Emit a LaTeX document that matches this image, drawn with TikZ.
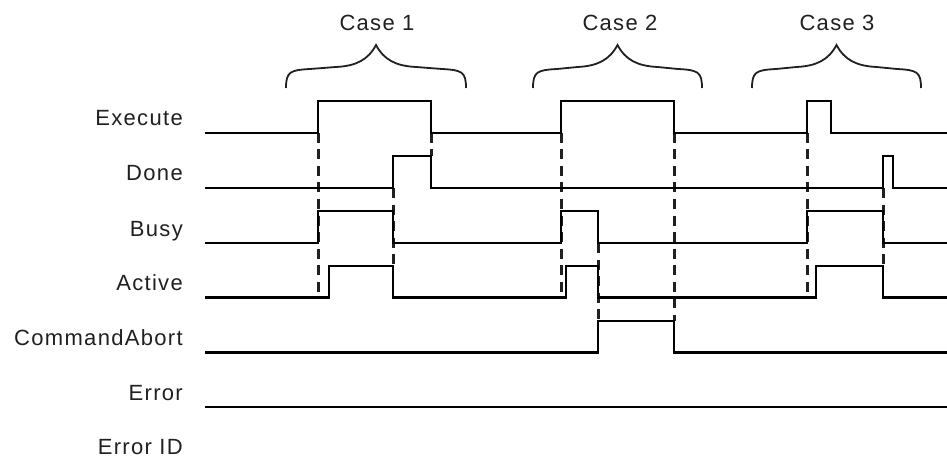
\documentclass[tikz,border=0pt]{standalone}
\usepackage{fontspec}
\setmainfont{Liberation Sans}[LetterSpace=6]
\begin{document}
\begin{tikzpicture}[x=1pt,y=-1pt,
  sig/.style={line width=2.1pt,black,line join=miter},
  guide/.style={line width=3pt,draw=ink,dash pattern=on 10pt off 6.5pt},
  lbl/.style={anchor=base east,inner sep=0pt,text=ink,font=\fontsize{22}{24}\selectfont},
  caselbl/.style={anchor=base,inner sep=0pt,text=ink,font=\fontsize{22}{24}\selectfont},
  brc/.style={line width=1.8pt,draw=ink}]
\definecolor{ink}{HTML}{231F20}
\useasboundingbox (0,0) rectangle (947,457);
\fill[white] (0,0) rectangle (947,457);
% labels
\node[lbl] (lExec) at (183,126) {Execute};
\node[lbl] (lDone) at (183,181) {Done};
\node[lbl] (lBusy) at (183,236) {Busy};
\node[lbl] (lAct) at (183,290.5) {Active};
\node[lbl] (lCA) at (183,345.5) {CommandAbort};
\node[lbl] (lErr) at (183,400) {Error};
\node[lbl] (lErrID) at (183,454) {Error ID};
% case labels
\node[caselbl] (c1) at (377,31) {Case 1};
\node[caselbl] (c2) at (620,31) {Case 2};
\node[caselbl] (c3) at (837,31) {Case 3};
% braces
\foreach \cx/\hw in {376/90, 617.5/84.5, 836.5/84.5}{
  \draw[brc] (\cx-\hw,88) .. controls (\cx-\hw,72) and (\cx-\hw+4,70) .. (\cx-\hw+24,69)
    -- (\cx-40,67) .. controls (\cx-20,66) and (\cx-8,60) .. (\cx,45)
    .. controls (\cx+8,60) and (\cx+20,66) .. (\cx+40,67)
    -- (\cx+\hw-24,69) .. controls (\cx+\hw-4,70) and (\cx+\hw,72) .. (\cx+\hw,88);
}
% dashed guides
\draw[guide] (318,133) -- (318,297.5);
\draw[guide] (393,188) -- (393,266);
\draw[guide] (431,133) -- (431,156);
\draw[guide] (561,133) -- (561,297.5);
\draw[guide] (598,243) -- (598,321);
\draw[guide] (674,133) -- (674,321);
\draw[guide] (807,133) -- (807,297.5);
\draw[guide] (883,188) -- (883,266);
% waveforms
\draw[sig] (205,133) -- (318,133) -- (318,101) -- (431,101) -- (431,133) -- (561,133) -- (561,101) -- (674,101) -- (674,133) -- (807,133) -- (807,101) -- (831,101) -- (831,133) -- (947,133);
\draw[sig] (205,188) -- (393,188) -- (393,156) -- (431,156) -- (431,188) -- (883,188) -- (883,156) -- (893,156) -- (893,188) -- (947,188);
\draw[sig] (205,243) -- (318,243) -- (318,211) -- (393,211) -- (393,243) -- (561,243) -- (561,211) -- (598,211) -- (598,243) -- (807,243) -- (807,211) -- (883,211) -- (883,243) -- (947,243);
\draw[sig] (205,297.5) -- (329,297.5) -- (329,266) -- (393,266) -- (393,297.5) -- (566,297.5) -- (566,266) -- (598,266) -- (598,297.5) -- (816,297.5) -- (816,266) -- (883,266) -- (883,297.5) -- (947,297.5);
\draw[sig] (205,352.5) -- (598,352.5) -- (598,321) -- (674,321) -- (674,352.5) -- (947,352.5);
\draw[sig] (205,407) -- (947,407);
\end{tikzpicture}
\end{document}
